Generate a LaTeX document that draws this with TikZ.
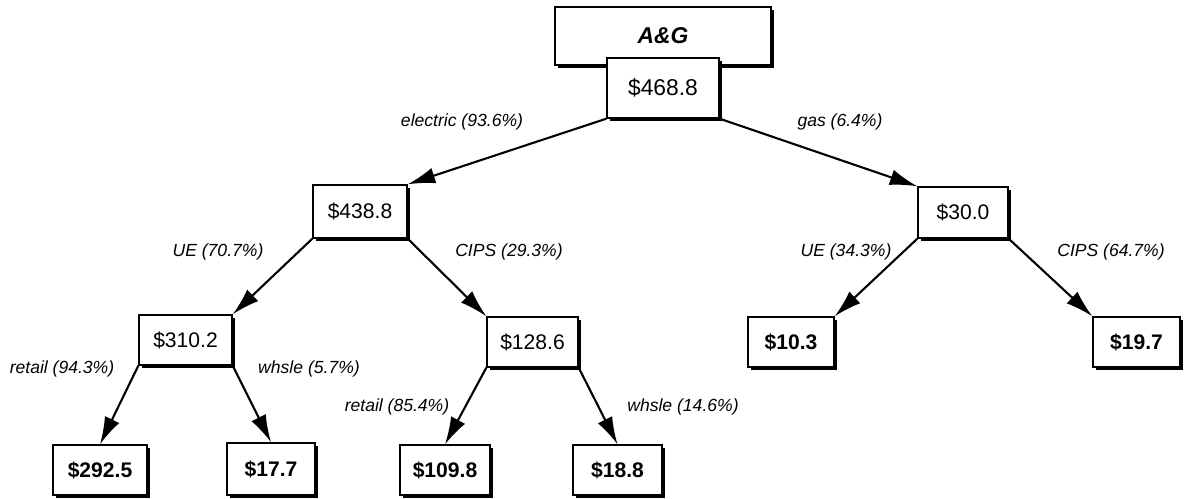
\documentclass[tikz,border=0pt]{standalone}
\usepackage{fontspec}
\setmainfont{Liberation Sans}
\usetikzlibrary{arrows.meta,shadows}

\begin{document}
\begin{tikzpicture}
[x=0.02cm,y=-0.02cm,
 amount/.style={draw,line width=0.8pt,fill=white,inner sep=0pt,
   font=\fontsize{12}{14}\selectfont,
   drop shadow={shadow xshift=1.8pt,shadow yshift=-1.8pt,fill=black,opacity=1}},
 leaf/.style={amount,font=\fontsize{12}{14}\selectfont\bfseries},
 share/.style={font=\fontsize{10}{12}\selectfont\itshape,inner sep=0pt},
 flow/.style={-{Latex[length=0.55cm,width=0.32cm]},line width=1.2pt}]

\useasboundingbox (0,0) rectangle (1185,498);

% title and total
\node (ag) at (663,36) [amount,minimum width=4.32cm,minimum height=1.16cm,
  font=\fontsize{13}{15}\selectfont\bfseries\itshape] {A\&G};
\node (tot) at (663,88) [amount,minimum width=2.24cm,minimum height=1.2cm,
  font=\fontsize{13}{15}\selectfont] {\$468.8};

% second level
\node (el) at (360,211.5) [amount,minimum width=1.88cm,minimum height=1.06cm] {\$438.8};
\node (gs) at (963,212.5) [amount,minimum width=1.8cm,minimum height=1.02cm] {\$30.0};

% third level
\node (elue) at (185.5,340) [amount,minimum width=1.86cm,minimum height=1cm] {\$310.2};
\node (elcips) at (532.5,342) [amount,minimum width=1.82cm,minimum height=1cm] {\$128.6};
\node (gsue) at (791,342) [leaf,minimum width=1.72cm,minimum height=1cm] {\$10.3};
\node (gscips) at (1136.5,342) [leaf,minimum width=1.74cm,minimum height=1cm] {\$19.7};

% leaves
\node (uert) at (100,470) [leaf,minimum width=1.88cm,minimum height=1cm] {\$292.5};
\node (uews) at (271,469) [leaf,minimum width=1.76cm,minimum height=1.04cm] {\$17.7};
\node (cprt) at (445,470) [leaf,minimum width=1.8cm,minimum height=1cm] {\$109.8};
\node (cpws) at (617.5,470) [leaf,minimum width=1.78cm,minimum height=1cm] {\$18.8};

\draw[flow] (tot.south west) -- (el.north east);
\draw[flow] (tot.south east) -- (gs.north west);
\draw[flow] (el.south west) -- (elue.north east);
\draw[flow] (el.south east) -- (elcips.north west);
\draw[flow] (gs.south west) -- (gsue.north east);
\draw[flow] (gs.south east) -- (gscips.north west);
\draw[flow] (elue.south west) -- (uert.north);
\draw[flow] (elue.south east) -- (uews.north);
\draw[flow] (elcips.south west) -- (cprt.north);
\draw[flow] (elcips.south east) -- (cpws.north);

% shares
\node (lel) at (462,122) [share] {electric (93.6\%)};
\node (lgs) at (840,122) [share] {gas (6.4\%)};
\node (lelue) at (218,252) [share] {UE (70.7\%)};
\node (lelcips) at (509,252) [share] {CIPS (29.3\%)};
\node (lgsue) at (846,252) [share] {UE (34.3\%)};
\node (lgscips) at (1111,252) [share] {CIPS (64.7\%)};
\node (luert) at (62,369) [share] {retail (94.3\%)};
\node (luews) at (309,369) [share] {whsle (5.7\%)};
\node (lcprt) at (397,407) [share] {retail (85.4\%)};
\node (lcpws) at (683,407) [share] {whsle (14.6\%)};
\end{tikzpicture}
\end{document}
